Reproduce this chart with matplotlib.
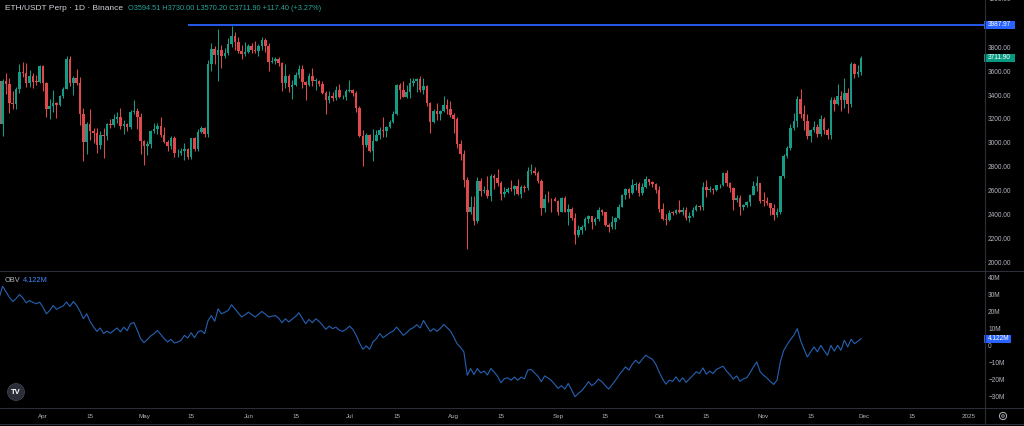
import matplotlib
matplotlib.use("Agg")
import matplotlib.pyplot as plt
import matplotlib.dates as mdates
from matplotlib.patches import Rectangle, Circle
from matplotlib.lines import Line2D
from matplotlib.transforms import blended_transform_factory, IdentityTransform
import numpy as np
import pandas as pd
from datetime import datetime

plt.rcParams['font.family'] = ['Liberation Sans', 'DejaVu Sans']

# ---------------- data (ETH/USDT Perp, 1D) ----------------
dates = pd.date_range('2024-03-19', '2024-11-30', freq='D')

opens = [
    3520, 3156, 3516, 3492, 3336, 3329, 3454, 3590, 3588, 3500, 3561, 3511, 3509,
    3647, 3505, 3280, 3310, 3330, 3317, 3393, 3453, 3700, 3505, 3545, 3503, 3241, 3007, 3155,
    3101, 3084, 2985, 3067, 3057, 3156, 3148, 3200, 3220, 3140, 3155, 3130, 3255, 3263, 3216,
    3014, 2970, 2988, 3103, 3117, 3137, 3063, 3006, 2973, 3037, 2911, 2912, 2929, 2950, 2882,
    3037, 2945, 3093, 3123, 3071, 3663, 3788, 3737, 3780, 3727, 3750, 3826, 3892, 3842, 3767, 3747,
    3761, 3813, 3780, 3767, 3810, 3865, 3813, 3680, 3683, 3706, 3667, 3499, 3561, 3470, 3481,
    3566, 3620, 3512, 3482, 3560, 3516, 3520, 3490, 3419, 3356, 3394, 3373, 3444, 3380, 3380,
    3433, 3440, 3420, 3294, 3057, 2980, 3066, 2932, 3018, 3066, 3104, 3101, 3132, 3176, 3245,
    3485, 3445, 3385, 3424, 3505, 3517, 3537, 3440, 3480, 3335, 3171, 3270, 3245, 3270, 3320, 3280,
    3230, 3200, 2990, 2903, 2689, 2420, 2459, 2345, 2683, 2600, 2608, 2555, 2723, 2703, 2662,
    2570, 2590, 2615, 2613, 2637, 2573, 2630, 2622, 2763, 2768, 2745, 2681, 2458, 2529, 2527, 2526,
    2513, 2425, 2537, 2423, 2450, 2369, 2225, 2273, 2296, 2360, 2388, 2340, 2361, 2439, 2418,
    2316, 2295, 2340, 2370, 2465, 2560, 2613, 2581, 2647, 2653, 2577, 2633, 2698, 2676, 2659,
    2603, 2448, 2364, 2350, 2415, 2414, 2440, 2422, 2440, 2370, 2385, 2438, 2475, 2467, 2630,
    2607, 2611, 2603, 2643, 2647, 2745, 2666, 2622, 2524, 2535, 2467, 2480, 2507, 2565, 2637, 2660,
    2517, 2515, 2494, 2456, 2398, 2422, 2720, 2894, 2960, 3127, 3183, 3371, 3244, 3186, 3059,
    3109, 3132, 3073, 3200, 3105, 3067, 3355, 3326, 3390, 3361, 3414, 3324, 3657, 3579, 3594.51,
]
highs = [
    3545, 3535, 3588, 3542, 3435, 3465, 3660, 3678, 3665, 3610, 3585, 3565, 3655,
    3650, 3510, 3365, 3445, 3345, 3400, 3466, 3730, 3725, 3560, 3617, 3555, 3290, 3175, 3280,
    3125, 3125, 3095, 3128, 3170, 3200, 3240, 3260, 3290, 3190, 3165, 3275, 3355, 3290, 3250,
    3020, 3015, 3110, 3170, 3170, 3220, 3130, 3020, 3060, 3055, 2945, 2955, 2995, 2960, 3040,
    3045, 3120, 3145, 3130, 3690, 3840, 3815, 3950, 3820, 3790, 3880, 3975, 3930, 3885, 3820, 3845,
    3830, 3838, 3850, 3830, 3888, 3880, 3840, 3715, 3715, 3718, 3675, 3660, 3575, 3530, 3590,
    3650, 3650, 3520, 3585, 3625, 3545, 3530, 3520, 3430, 3430, 3425, 3480, 3490, 3400, 3450,
    3525, 3455, 3430, 3310, 3110, 3085, 3075, 3115, 3105, 3130, 3220, 3140, 3195, 3270, 3495,
    3500, 3515, 3485, 3545, 3540, 3545, 3560, 3540, 3485, 3340, 3285, 3330, 3275, 3395, 3365, 3350,
    3250, 3220, 3020, 2940, 2710, 2555, 2555, 2715, 2705, 2640, 2720, 2740, 2735, 2785, 2680,
    2630, 2630, 2690, 2645, 2700, 2645, 2650, 2800, 2820, 2795, 2765, 2700, 2570, 2600, 2535, 2545,
    2520, 2550, 2555, 2490, 2460, 2410, 2315, 2310, 2375, 2400, 2390, 2380, 2460, 2450, 2425,
    2330, 2390, 2375, 2485, 2570, 2620, 2620, 2700, 2670, 2670, 2660, 2725, 2700, 2680, 2665,
    2640, 2500, 2405, 2440, 2430, 2450, 2520, 2465, 2465, 2420, 2465, 2485, 2480, 2670, 2690,
    2640, 2625, 2650, 2655, 2760, 2770, 2670, 2630, 2560, 2565, 2490, 2510, 2575, 2680, 2720, 2665,
    2585, 2550, 2500, 2490, 2455, 2725, 2910, 2975, 3160, 3250, 3390, 3447, 3320, 3240, 3115,
    3180, 3160, 3230, 3220, 3125, 3385, 3380, 3495, 3430, 3540, 3460, 3680, 3665, 3650, 3730.00,
]
lows = [
    3060, 3055, 3412, 3250, 3286, 3280, 3420, 3550, 3465, 3465, 3460, 3485, 3500,
    3430, 3213, 3200, 3255, 3210, 3305, 3373, 3450, 3480, 3400, 3485, 3150, 2850, 2910, 3020,
    2995, 2915, 2950, 2870, 3025, 3125, 3130, 3170, 3120, 3075, 3100, 3120, 3240, 3120, 2910,
    2815, 2895, 2955, 3085, 3070, 3050, 3000, 2935, 2950, 2880, 2880, 2900, 2860, 2865, 2865,
    2935, 2935, 3085, 3050, 3050, 3605, 3660, 3520, 3625, 3710, 3735, 3800, 3775, 3755, 3700, 3725,
    3750, 3755, 3755, 3730, 3780, 3760, 3600, 3665, 3660, 3645, 3435, 3460, 3425, 3365, 3475,
    3545, 3460, 3360, 3475, 3480, 3445, 3480, 3410, 3240, 3335, 3350, 3360, 3375, 3370, 3360,
    3425, 3395, 3260, 3050, 2810, 2965, 2925, 2850, 3015, 3030, 3050, 3045, 3125, 3165, 3235,
    3370, 3380, 3375, 3375, 3480, 3425, 3425, 3405, 3305, 3085, 3165, 3190, 3195, 3260, 3240, 3220,
    3080, 2960, 2855, 2630, 2111, 2405, 2315, 2325, 2555, 2580, 2540, 2510, 2610, 2640, 2520,
    2550, 2580, 2600, 2560, 2560, 2535, 2585, 2605, 2740, 2730, 2660, 2400, 2420, 2505, 2425, 2510,
    2400, 2420, 2420, 2310, 2355, 2150, 2215, 2240, 2270, 2325, 2275, 2310, 2345, 2400, 2300,
    2255, 2275, 2280, 2365, 2460, 2530, 2535, 2570, 2605, 2555, 2565, 2625, 2650, 2630, 2580,
    2420, 2350, 2310, 2345, 2395, 2405, 2415, 2395, 2350, 2340, 2380, 2430, 2435, 2440, 2550,
    2590, 2570, 2595, 2625, 2635, 2640, 2590, 2440, 2505, 2400, 2440, 2460, 2470, 2560, 2600, 2495,
    2470, 2480, 2395, 2355, 2375, 2405, 2705, 2875, 2940, 3110, 3130, 3210, 3110, 3030, 3010,
    3090, 3045, 3055, 3075, 3035, 3030, 3270, 3315, 3270, 3290, 3250, 3300, 3540, 3555, 3570.20,
]
closes = [
    3156, 3516, 3492, 3336, 3329, 3454, 3590, 3588, 3500, 3561, 3511, 3509, 3647,
    3505, 3280, 3310, 3330, 3317, 3393, 3453, 3700, 3505, 3545, 3503, 3241, 3007, 3155, 3101,
    3084, 2985, 3067, 3057, 3156, 3148, 3200, 3220, 3140, 3155, 3130, 3255, 3263, 3216, 3014,
    2970, 2988, 3103, 3117, 3137, 3063, 3006, 2973, 3037, 2911, 2912, 2929, 2950, 2882, 3037,
    2945, 3093, 3123, 3071, 3663, 3788, 3737, 3780, 3727, 3750, 3826, 3892, 3842, 3767, 3747, 3761,
    3813, 3780, 3767, 3810, 3865, 3813, 3680, 3683, 3706, 3667, 3499, 3561, 3470, 3481, 3566,
    3620, 3512, 3482, 3560, 3516, 3520, 3490, 3419, 3356, 3394, 3373, 3444, 3380, 3380, 3433,
    3440, 3420, 3294, 3057, 2980, 3066, 2932, 3018, 3066, 3104, 3101, 3132, 3176, 3245, 3485,
    3445, 3385, 3424, 3505, 3517, 3537, 3440, 3480, 3335, 3171, 3270, 3245, 3270, 3320, 3280, 3230,
    3200, 2990, 2903, 2689, 2420, 2459, 2345, 2683, 2600, 2608, 2555, 2723, 2703, 2662, 2570,
    2590, 2615, 2613, 2637, 2573, 2630, 2622, 2763, 2768, 2745, 2681, 2458, 2529, 2527, 2526, 2513,
    2425, 2537, 2423, 2450, 2369, 2225, 2273, 2296, 2360, 2388, 2340, 2361, 2439, 2418, 2316,
    2295, 2340, 2370, 2465, 2560, 2613, 2581, 2647, 2653, 2577, 2633, 2698, 2676, 2659, 2603,
    2448, 2364, 2350, 2415, 2414, 2440, 2422, 2440, 2370, 2385, 2438, 2475, 2467, 2630, 2607,
    2611, 2603, 2643, 2647, 2745, 2666, 2622, 2524, 2535, 2467, 2480, 2507, 2565, 2637, 2660, 2517,
    2515, 2494, 2456, 2398, 2422, 2720, 2894, 2960, 3127, 3183, 3371, 3244, 3186, 3059, 3109,
    3132, 3073, 3200, 3105, 3067, 3355, 3326, 3390, 3361, 3414, 3324, 3657, 3579, 3594.50, 3711.90,
]
# On-Balance Volume, millions
obv = [
    28.0, 34.8, 31.5, 28.3, 25.8, 27.5, 29.9, 28.0, 25.0, 26.4, 25.3, 24.5, 25.4,
    22.5, 18.6, 20.5, 23.5, 21.2, 22.3, 23.2, 25.5, 22.9, 25.8, 23.5, 20.0, 15.7, 18.6, 14.0,
    11.0, 8.3, 10.3, 7.0, 8.5, 7.2, 8.8, 10.3, 8.0, 10.8, 8.7, 12.8, 13.5, 9.0, 4.0,
    1.7, 3.5, 5.6, 7.0, 8.9, 6.5, 4.0, 2.1, 3.6, 1.5, 2.0, 3.1, 6.0, 4.4, 7.5,
    4.6, 7.9, 8.8, 7.0, 14.5, 17.6, 14.2, 21.5, 18.6, 19.5, 20.6, 23.9, 21.5, 19.0, 16.7, 18.0,
    19.6, 18.2, 16.7, 18.3, 20.0, 18.5, 16.7, 17.2, 17.6, 16.0, 13.4, 15.7, 13.8, 15.5, 17.0,
    19.2, 16.0, 12.8, 15.3, 13.4, 15.7, 14.2, 12.0, 9.5, 11.4, 9.9, 10.8, 9.0, 8.3, 9.5,
    11.4, 9.5, 6.0, 1.5, -2.2, -0.2, -2.2, 2.1, 4.0, 7.0, 4.6, 6.0, 7.5, 8.5, 10.8,
    8.5, 6.0, 7.5, 9.5, 10.5, 12.2, 10.3, 14.7, 11.5, 8.3, 9.9, 8.3, 10.0, 12.4, 10.5, 8.5,
    5.0, 1.0, -1.0, -3.7, -17.4, -13.5, -17.0, -13.5, -16.0, -15.0, -17.2, -13.5, -15.5, -18.0, -21.8,
    -19.5, -18.9, -20.3, -18.5, -20.3, -18.5, -19.5, -14.4, -14.0, -16.0, -18.0, -21.2, -17.8, -19.0, -20.5, -22.8,
    -25.1, -23.5, -25.5, -22.2, -26.0, -30.0, -28.0, -26.5, -24.0, -21.2, -23.5, -22.0, -19.7, -21.2, -23.5,
    -25.5, -23.0, -20.5, -17.5, -15.0, -12.5, -14.4, -11.0, -8.6, -10.5, -8.0, -5.7, -7.0, -8.0, -11.0,
    -15.5, -19.5, -22.6, -20.3, -21.0, -18.3, -21.2, -18.9, -21.6, -19.5, -17.5, -15.4, -16.4, -13.1, -16.8,
    -15.0, -16.4, -14.0, -13.0, -12.1, -15.0, -17.0, -19.7, -17.8, -20.9, -19.5, -18.9, -16.0, -12.5, -9.6, -15.4,
    -17.4, -19.0, -21.0, -22.8, -20.3, -9.6, -2.8, 0.5, 3.5, 6.0, 9.9, 3.0, -2.0, -6.7, -3.8,
    -0.8, -3.7, 0.1, -3.0, -5.7, 0.1, -3.3, 0.1, -2.8, 3.1, -0.8, 3.7, 1.1, 2.5, 4.122,
]

price_ticks = [2000, 2200, 2400, 2600, 2800, 3000, 3200, 3400, 3600, 3800]
obv_ticks = [40, 30, 20, 10, 0, -10, -20, -30]
obv_tick_labels = ['40M', '30M', '20M', '10M', '0', '\u221210M', '\u221220M', '\u221230M']
x_tick_dates = ['2024-04-01', '2024-04-15', '2024-05-01', '2024-05-15', '2024-06-01', '2024-06-15',
                '2024-07-01', '2024-07-15', '2024-08-01', '2024-08-15', '2024-09-01', '2024-09-15',
                '2024-10-01', '2024-10-15', '2024-11-01', '2024-11-15', '2024-12-01', '2024-12-15',
                '2025-01-01']
x_tick_labels = ['Apr', '15', 'May', '15', 'Jun', '15', 'Jul', '15', 'Aug', '15', 'Sep', '15',
                 'Oct', '15', 'Nov', '15', 'Dec', '15', '2025']
ray_level = 3987.97
ray_start = '2024-05-14'

# ---------------- styling ----------------
BG = '#000000'
UP = '#169c86'
DOWN = '#e0484b'
GRID = '#2a2e39'
TXT = '#b2b5be'
BLUE = '#2962ff'
OBV_COL = '#2562b4'

W, H = 1024, 426
fig = plt.figure(figsize=(W / 100, H / 100), dpi=100, facecolor=BG)

def fx(x):
    return x / W

def fy(y):
    return 1 - y / H

ax = fig.add_axes([0, fy(271), 984 / W, 271 / H])
ax2 = fig.add_axes([0, fy(408), 984 / W, (408 - 272) / H], sharex=ax)
for a in (ax, ax2):
    a.set_facecolor(BG)
    for s in a.spines.values():
        s.set_visible(False)

xd = mdates.date2num(dates.to_pydatetime())
o = np.array(opens, float)
h = np.array(highs, float)
l = np.array(lows, float)
c = np.array(closes, float)
up = c >= o
cols = np.where(up, UP, DOWN)

ax.vlines(xd, l, h, colors=cols, linewidth=0.75, zorder=2)
body = np.maximum(np.abs(c - o), 7)
ax.bar(xd, body, bottom=np.minimum(o, c), width=0.76, color=cols, linewidth=0, zorder=3)

apr1 = mdates.date2num(datetime(2024, 4, 1))
pxday = 3.367
ax.set_xlim(apr1 - 43 / pxday, apr1 + 941 / pxday)
ax.set_ylim(1927, 4196)

# horizontal ray
rs = mdates.date2num(pd.Timestamp(ray_start).to_pydatetime())
ax.hlines(ray_level, rs, apr1 + 941 / pxday, color=BLUE, linewidth=1.3, zorder=4)

# price axis labels
ax.yaxis.tick_right()
ax.set_yticks(price_ticks)
ax.set_yticklabels([f'{v:.2f}' for v in price_ticks])
ax.tick_params(axis='y', length=0, pad=3, labelsize=4.7, labelcolor=TXT)
ax.tick_params(axis='x', length=0, labelbottom=False)
tr = blended_transform_factory(ax.transAxes, ax.transData)
ax.text(1 + 4 / 984, 4200, '4200.00', transform=tr, fontsize=4.7, color=TXT,
        va='center', ha='left', clip_on=False)

def value_box(axis, val, text, color, textcolor='white', width_px=31, height_px=8):
    trb = blended_transform_factory(axis.transAxes, axis.transData)
    y0, y1 = axis.get_ylim()
    ax_h_px = axis.get_position().height * H
    dh = (y1 - y0) / ax_h_px * height_px
    axis.add_patch(Rectangle((1.0, val - dh / 2), width_px / 984, dh, transform=trb,
                             facecolor=color, edgecolor='none', clip_on=False, zorder=10))
    axis.text(1 + 4 / 984, val, text, transform=trb, fontsize=4.7, color=textcolor,
              va='center', ha='left', clip_on=False, zorder=11)

value_box(ax, ray_level, f'{ray_level:.2f}', BLUE)
value_box(ax, closes[-1], f'{closes[-1]:.2f}', '#089981')

# OBV pane
ax2.plot(xd, obv, color=OBV_COL, linewidth=0.8)
ax2.set_ylim(-36.6, 43.1)
ax2.yaxis.tick_right()
ax2.set_yticks(obv_ticks)
ax2.set_yticklabels(obv_tick_labels)
ax2.tick_params(axis='y', length=0, pad=3, labelsize=4.7, labelcolor=TXT)
value_box(ax2, obv[-1], f'{obv[-1]:.3f}M', BLUE, width_px=27)

xt = mdates.date2num([pd.Timestamp(d).to_pydatetime() for d in x_tick_dates])
ax2.set_xticks(xt)
ax2.set_xticklabels(x_tick_labels)
ax2.tick_params(axis='x', length=0, pad=4.5, labelsize=4.5, labelcolor=TXT)

# separators
for yy in (271, 408, 424):
    fig.add_artist(Line2D([0, 1], [fy(yy), fy(yy)], transform=fig.transFigure,
                          color=GRID, linewidth=0.8))
fig.add_artist(Line2D([fx(984.5), fx(984.5)], [fy(0), fy(424)], transform=fig.transFigure,
                      color=GRID, linewidth=0.8))

# legends
chg = closes[-1] - closes[-2]
pct = chg / closes[-2] * 100
fig.text(fx(5), fy(8), 'ETH/USDT Perp \u00b7 1D \u00b7 Binance', color='#d1d4dc',
         fontsize=6, va='center', ha='left')
fig.text(fx(128), fy(8),
         f'O{opens[-1]:.2f} H{highs[-1]:.2f} L{lows[-1]:.2f} C{closes[-1]:.2f} '
         f'{chg:+.2f} ({pct:+.2f}%)',
         color='#26a69a', fontsize=5.3, va='center', ha='left')
fig.text(fx(5), fy(280), 'OBV', color=TXT, fontsize=5.3, va='center', ha='left')
fig.text(fx(23), fy(280), f'{obv[-1]:.3f}M', color='#3d8bfd', fontsize=5.3, va='center', ha='left')

# TradingView logo
fig.add_artist(Circle((16, H - 392), 8.5, transform=IdentityTransform(),
                      facecolor='#2a2e39', edgecolor='#3a3e49', linewidth=0.6))
fig.text(fx(16), fy(392), 'TV', color='white', fontsize=5.5, fontweight='bold',
         va='center', ha='center')
# settings icon
fig.add_artist(Circle((1003, H - 416), 3.6, transform=IdentityTransform(),
                      facecolor='none', edgecolor=TXT, linewidth=0.7))
fig.add_artist(Circle((1003, H - 416), 1.3, transform=IdentityTransform(),
                      facecolor='none', edgecolor=TXT, linewidth=0.6))

fig.savefig('out.png', dpi=100, facecolor=BG)
